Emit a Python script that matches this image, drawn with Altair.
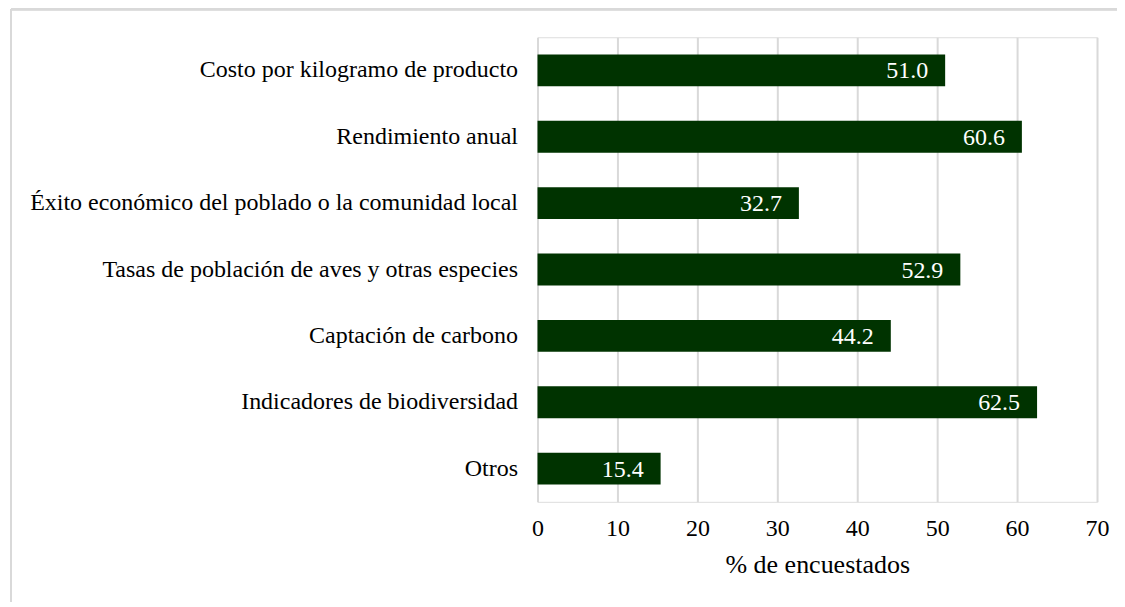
import altair as alt
import pandas as pd

categories = [
    "Costo por kilogramo de producto",
    "Rendimiento anual",
    "Éxito económico del poblado o la comunidad local",
    "Tasas de población de aves y otras especies",
    "Captación de carbono",
    "Indicadores de biodiversidad",
    "Otros",
]
values = [51.0, 60.6, 32.7, 52.9, 44.2, 62.5, 15.4]

df = pd.DataFrame({"cat": categories, "val": values})
df["lbl"] = df["val"].map(lambda v: f"{v:.1f}")

FONT = "Liberation Serif"
GREEN = "#003300"
FS = 24

y_enc = alt.Y("cat:N", sort=categories, title=None,
              scale=alt.Scale(paddingInner=0.52, paddingOuter=0.26),
              axis=alt.Axis(labelFontSize=FS, labelFont=FONT, labelColor="#000000",
                            ticks=False, domain=False, labelPadding=20, labelLimit=700))
x_enc = alt.X("val:Q", title="% de encuestados",
              scale=alt.Scale(domain=[0, 70]),
              axis=alt.Axis(values=list(range(0, 71, 10)), labelFontSize=FS, labelFont=FONT,
                            labelColor="#000000", titleFont=FONT, titleFontSize=26,
                            titleFontWeight="normal", titleColor="#000000",
                            labelFlush=False,
                            ticks=False, domain=False, grid=True, gridColor="#d9d9d9",
                            gridWidth=2, labelPadding=15, titlePadding=11))

bars = alt.Chart(df).mark_bar(color=GREEN).encode(x=x_enc, y=y_enc)
labels = alt.Chart(df).mark_text(align="right", baseline="middle", dx=-17, dy=1,
                                 color="white", font=FONT, fontSize=FS).encode(
    x="val:Q", y=alt.Y("cat:N", sort=categories), text="lbl:N")

frame_top = alt.Chart(df).mark_rule(color="#d9d9d9", strokeWidth=2).encode(
    x=alt.value(-527), x2=alt.value(600), y=alt.value(-28))
frame_left = alt.Chart(df).mark_rule(color="#d9d9d9", strokeWidth=2).encode(
    x=alt.value(-527), y=alt.value(-28), y2=alt.value(600))

chart = alt.layer(frame_top, frame_left, bars, labels).properties(
    width=560, height=465,
    autosize=alt.AutoSizeParams(type="none"),
    padding={"left": 530, "top": 29, "right": 20, "bottom": 100},
).configure_view(stroke=None).configure(background="white", font=FONT)

chart.save("out.html", embed_options={"renderer": "svg", "actions": False})
